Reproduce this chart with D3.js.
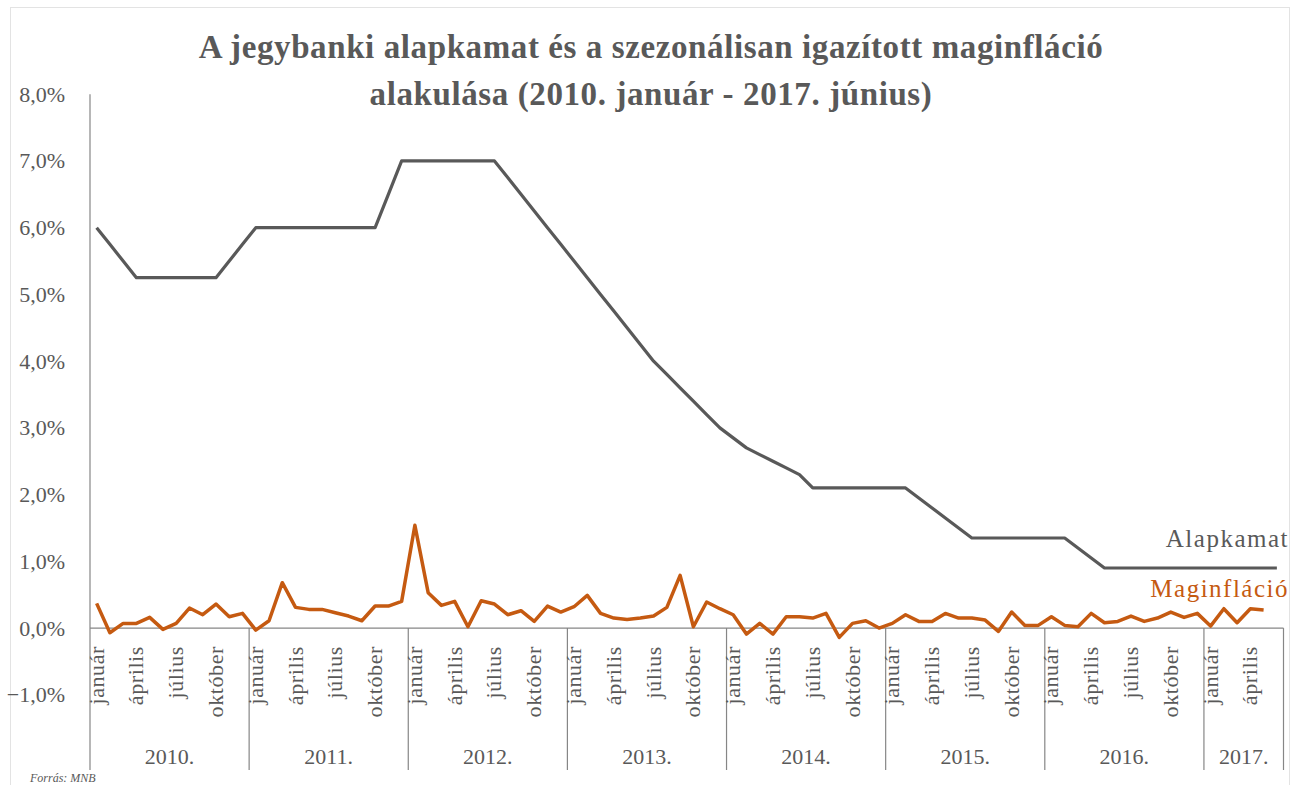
<!DOCTYPE html>
<html>
<head>
<meta charset="utf-8">
<script src="https://cdn.jsdelivr.net/npm/d3@7"></script>
<style>
  body { margin: 0; background: #fff; }
  text { font-family: "Liberation Serif", "DejaVu Serif", serif; }
</style>
</head>
<body>
<div class="graph-goes-here"></div>
<script>
// tick labels and categories
var monthNames = ["január", "február", "március", "április", "május", "június",
    "július", "augusztus", "szeptember", "október", "november", "december"];
var years = ["2010.", "2011.", "2012.", "2013.", "2014.", "2015.", "2016.", "2017."];
var yTicks = [-1, 0, 1, 2, 3, 4, 5, 6, 7, 8];

// jegybanki alapkamat, havi (2010. január - 2017. június), %
var alapkamat = [
    6.0, 5.75, 5.5, 5.25, 5.25, 5.25, 5.25, 5.25, 5.25, 5.25, 5.5, 5.75,
    6.0, 6.0, 6.0, 6.0, 6.0, 6.0, 6.0, 6.0, 6.0, 6.0, 6.5, 7.0,
    7.0, 7.0, 7.0, 7.0, 7.0, 7.0, 7.0, 6.75, 6.5, 6.25, 6.0, 5.75,
    5.5, 5.25, 5.0, 4.75, 4.5, 4.25, 4.0, 3.8, 3.6, 3.4, 3.2, 3.0,
    2.85, 2.7, 2.6, 2.5, 2.4, 2.3, 2.1, 2.1, 2.1, 2.1, 2.1, 2.1,
    2.1, 2.1, 1.95, 1.8, 1.65, 1.5, 1.35, 1.35, 1.35, 1.35, 1.35, 1.35,
    1.35, 1.35, 1.2, 1.05, 0.9, 0.9, 0.9, 0.9, 0.9, 0.9, 0.9, 0.9,
    0.9, 0.9, 0.9, 0.9, 0.9, 0.9
];

// szezonálisan igazított maginfláció, havi, % (2017. májusig)
var maginflacio = [
    0.37, -0.07, 0.07, 0.07, 0.16, -0.02, 0.07, 0.30, 0.20, 0.36, 0.17, 0.22,
    -0.03, 0.11, 0.68, 0.31, 0.28, 0.28, 0.23, 0.18, 0.11, 0.33, 0.33, 0.40,
    1.54, 0.53, 0.34, 0.40, 0.02, 0.41, 0.36, 0.20, 0.26, 0.10, 0.33, 0.24,
    0.32, 0.49, 0.22, 0.15, 0.13, 0.15, 0.18, 0.31, 0.79, 0.02, 0.39, 0.29,
    0.20, -0.09, 0.07, -0.09, 0.17, 0.17, 0.15, 0.22, -0.14, 0.07, 0.11, 0.00,
    0.07, 0.20, 0.10, 0.10, 0.22, 0.15, 0.15, 0.12, -0.05, 0.24, 0.04, 0.04,
    0.17, 0.04, 0.02, 0.22, 0.08, 0.10, 0.18, 0.10, 0.15, 0.24, 0.16, 0.22,
    0.03, 0.29, 0.08, 0.29, 0.27
];

var grey = "#595959";
var orange = "#C55A11";
var axisColor = "#868686";

var width = 1292, height = 785;
var svg = d3.select(".graph-goes-here")
    .append("svg")
    .attr("width", width)
    .attr("height", height);

// chart frame
svg.append("rect")
    .attr("x", 10.5).attr("y", 7.5)
    .attr("width", 1279).attr("height", 790)
    .attr("fill", "none")
    .attr("stroke", "#e3e3e3");

var plotLeft = 90, plotRight = 1283.5, axisBottom = 770;

var monthIdx = d3.range(alapkamat.length);
var xScale = d3.scaleBand().domain(monthIdx).range([plotLeft, plotRight]).padding(0);
var yScale = d3.scaleLinear().domain([-1, 8]).range([694.8, 94.2]);
var cx = i => xScale(i) + xScale.bandwidth() / 2;

var pctFormat = d3.formatLocale({ decimal: ",", thousands: " ", grouping: [3], currency: ["", ""] }).format(".1f");

// y axis labels
var yAxis = svg.append("g")
    .attr("transform", "translate(" + plotLeft + ",0)")
    .call(d3.axisLeft(yScale).tickValues(yTicks).tickSize(0).tickPadding(25)
        .tickFormat(d => pctFormat(d) + "%"));
yAxis.select(".domain").remove();
yAxis.selectAll("text")
    .attr("fill", grey)
    .style("font-size", "22px")
    .style("font-family", "'Liberation Serif', serif");

// axis lines
svg.append("line")
    .attr("x1", plotLeft).attr("x2", plotLeft)
    .attr("y1", yScale(8)).attr("y2", axisBottom)
    .attr("stroke", axisColor).attr("stroke-width", 1.2);
svg.append("line")
    .attr("x1", plotLeft).attr("x2", plotRight)
    .attr("y1", yScale(0)).attr("y2", yScale(0))
    .attr("stroke", axisColor).attr("stroke-width", 1.2);

// year separators
var yearStarts = monthIdx.filter(i => i % 12 == 0).slice(1);
svg.selectAll(".year-sep")
    .data(yearStarts)
    .enter().append("line")
    .attr("class", "year-sep")
    .attr("x1", d => xScale(d)).attr("x2", d => xScale(d))
    .attr("y1", yScale(0)).attr("y2", axisBottom)
    .attr("stroke", axisColor).attr("stroke-width", 1.2);
svg.append("line")
    .attr("x1", plotRight).attr("x2", plotRight)
    .attr("y1", yScale(0)).attr("y2", axisBottom)
    .attr("stroke", axisColor).attr("stroke-width", 1.2);

// month labels (every third month)
svg.selectAll(".month-label")
    .data(monthIdx.filter(i => i % 3 == 0))
    .enter().append("text")
    .attr("class", "month-label")
    .attr("transform", d => "translate(" + (cx(d) + 7) + ",646) rotate(-90)")
    .attr("text-anchor", "end")
    .attr("fill", grey)
    .style("font-size", "22px")
    .style("letter-spacing", "0.6px")
    .text(d => monthNames[d % 12]);

// year labels
svg.selectAll(".year-label")
    .data(years)
    .enter().append("text")
    .attr("class", "year-label")
    .attr("x", (d, i) => {
        var first = i * 12;
        var last = Math.min(first + 11, alapkamat.length - 1);
        return (xScale(first) + xScale(last) + xScale.bandwidth()) / 2;
    })
    .attr("y", 764)
    .attr("text-anchor", "middle")
    .attr("fill", grey)
    .style("font-size", "22px")
    .text(d => d);

// lines
var line = d3.line()
    .x((d, i) => cx(i))
    .y(d => yScale(d));

svg.append("path")
    .datum(alapkamat)
    .attr("fill", "none")
    .attr("stroke", grey)
    .attr("stroke-width", 3.2)
    .attr("stroke-linejoin", "round")
    .attr("d", line);

svg.append("path")
    .datum(maginflacio)
    .attr("fill", "none")
    .attr("stroke", orange)
    .attr("stroke-width", 3.5)
    .attr("stroke-linejoin", "round")
    .attr("d", line);

// series labels
svg.append("text")
    .attr("x", 1289).attr("y", 547)
    .attr("text-anchor", "end")
    .attr("fill", grey)
    .style("font-size", "25px")
    .style("letter-spacing", "1.5px")
    .text("Alapkamat");
svg.append("text")
    .attr("x", 1289).attr("y", 597)
    .attr("text-anchor", "end")
    .attr("fill", orange)
    .style("font-size", "25px")
    .style("letter-spacing", "1.5px")
    .text("Maginfláció");

// title
var title = svg.append("text")
    .attr("text-anchor", "middle")
    .attr("fill", grey)
    .style("font-size", "33px")
    .style("font-weight", "bold")
    .style("letter-spacing", "0.6px");
title.append("tspan").attr("x", 651).attr("y", 58)
    .text("A jegybanki alapkamat és a szezonálisan igazított maginfláció");
title.append("tspan").attr("x", 651).attr("y", 105)
    .text("alakulása (2010. január - 2017. június)");

// source
svg.append("text")
    .attr("x", 30).attr("y", 782)
    .attr("fill", grey)
    .style("font-size", "12px")
    .style("font-style", "italic")
    .text("Forrás: MNB");
</script>
</body>
</html>
